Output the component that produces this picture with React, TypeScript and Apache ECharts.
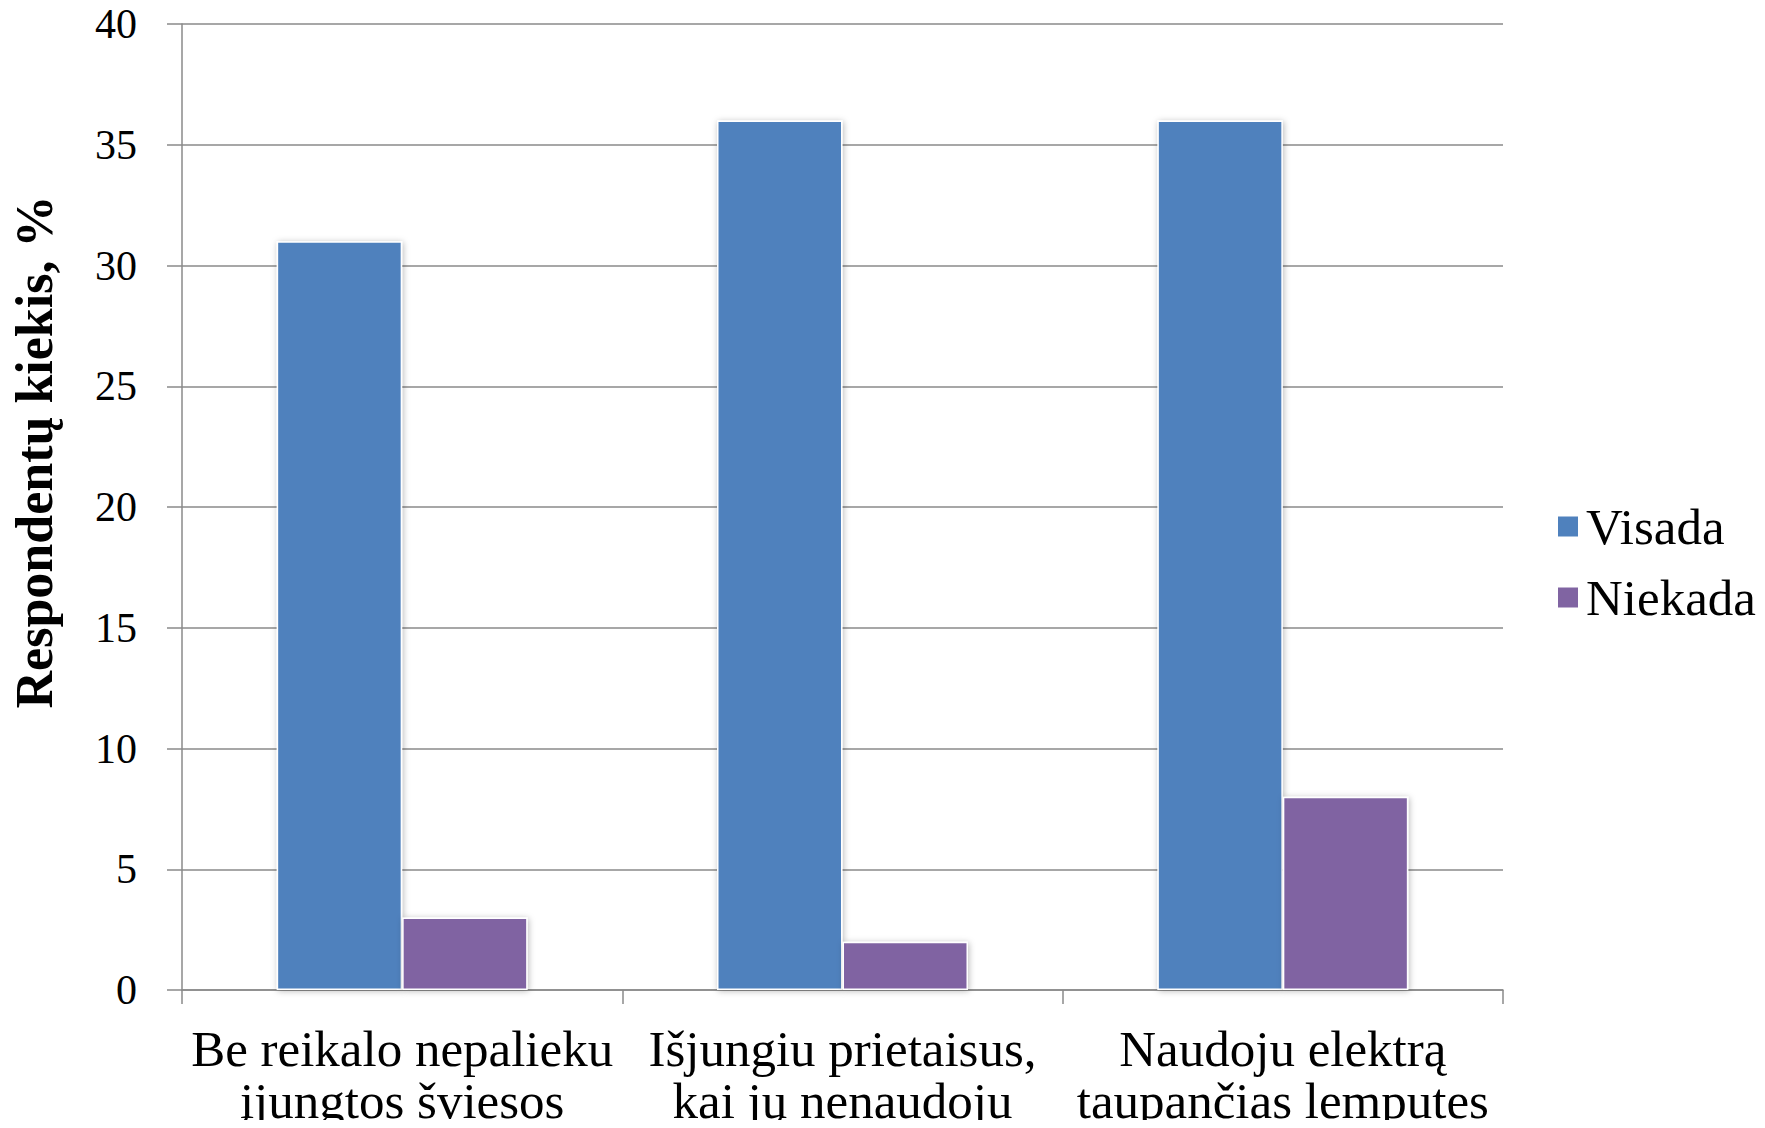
import React, { useEffect, useRef } from "react";
import * as echarts from "echarts";

const categories = [
  "Be reikalo nepalieku\nįjungtos šviesos",
  "Išjungiu prietaisus,\nkai jų nenaudoju",
  "Naudoju elektrą\ntaupančias lemputes",
];
const seriesNames = ["Visada", "Niekada"];
const visada = [31, 36, 36];
const niekada = [3, 2, 8];
const yTitle = "Respondentų kiekis, %";

const FONT = "'Liberation Serif', 'DejaVu Serif', serif";
const AXIS_GRAY = "#8a8a8a";

export default function App() {
  const ref = useRef<HTMLDivElement>(null);
  useEffect(() => {
    if (!ref.current) return;
    const chart = echarts.init(ref.current, null, { renderer: "svg" });
    const barStyle = (color: string) => ({
      color,
      borderColor: "#ffffff",
      borderWidth: 1.5,
      shadowBlur: 6,
      shadowColor: "rgba(0,0,0,0.28)",
      shadowOffsetX: 1,
      shadowOffsetY: 1,
    });
    chart.setOption({
      animation: false,
      backgroundColor: "#ffffff",
      textStyle: { fontFamily: FONT, color: "#000" },
      grid: { left: 182, right: 262, top: 21, bottom: 138, containLabel: false },
      legend: {
        orient: "vertical",
        left: 1551,
        top: 496,
        itemWidth: 22,
        itemHeight: 22,
        itemGap: 20,
        icon: "rect",
        data: seriesNames,
        textStyle: {
          fontFamily: FONT,
          fontSize: 51,
          lineHeight: 50,
          color: "#000",
          padding: [0, 0, 0, 2],
        },
      },
      xAxis: {
        type: "category",
        data: categories,
        boundaryGap: true,
        axisLine: { show: true, lineStyle: { color: AXIS_GRAY, width: 1.5 } },
        axisTick: { show: true, length: 14, lineStyle: { color: AXIS_GRAY, width: 1.5 } },
        axisLabel: {
          interval: 0,
          margin: 33,
          fontFamily: FONT,
          fontSize: 51,
          lineHeight: 52,
          color: "#000",
          align: "center",
        },
      },
      yAxis: {
        type: "value",
        min: 0,
        max: 40,
        interval: 5,
        axisLine: { show: true, lineStyle: { color: AXIS_GRAY, width: 1.5 } },
        axisTick: { show: true, length: 15, lineStyle: { color: AXIS_GRAY, width: 1.5 } },
        splitLine: { show: true, lineStyle: { color: AXIS_GRAY, width: 1.5 } },
        axisLabel: {
          margin: 45,
          fontFamily: FONT,
          fontSize: 42,
          lineHeight: 34,
          padding: [14, 0, 0, 0],
          color: "#000",
        },
      },
      graphic: [
        {
          type: "text",
          x: 34,
          y: 452,
          rotation: Math.PI / 2,
          style: {
            text: yTitle,
            fontFamily: FONT,
            fontSize: 52,
            fontWeight: "bold",
            fill: "#000",
            textAlign: "center",
            textVerticalAlign: "middle",
          },
        },
      ],
      series: [
        {
          name: seriesNames[0],
          type: "bar",
          data: visada,
          barGap: "0%",
          barCategoryGap: "43%",
          itemStyle: barStyle("#4F81BD"),
        },
        {
          name: seriesNames[1],
          type: "bar",
          data: niekada,
          barGap: "0%",
          barCategoryGap: "43%",
          itemStyle: barStyle("#8064A2"),
        },
      ],
    });
    return () => chart.dispose();
  }, []);
  return <div ref={ref} style={{ width: 1765, height: 1128, margin: -8 }} />;
}
